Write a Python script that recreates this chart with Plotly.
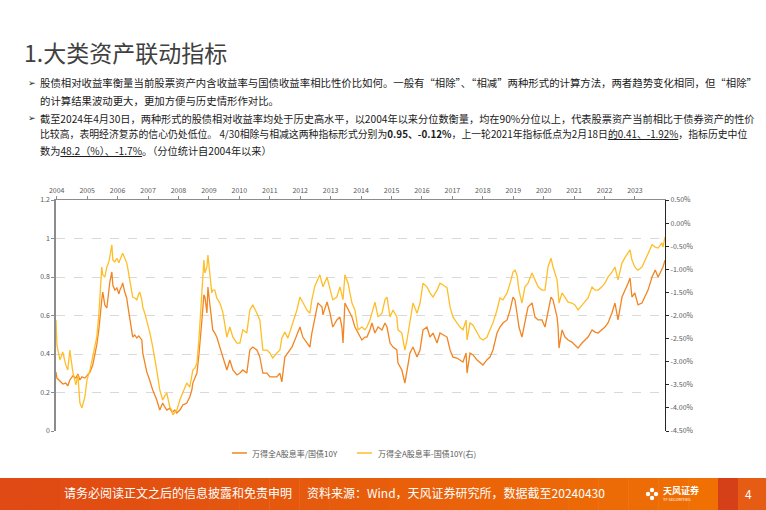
import plotly.graph_objects as go

# ---------------- data ----------------
dates = [
    "2004-01-02", "2004-01-13", "2004-02-19", "2004-03-25", "2004-04-30", "2004-05-25", "2004-06-19", "2004-07-25",
    "2004-09-01", "2004-09-25", "2004-10-19", "2004-11-13", "2004-12-19", "2005-01-13", "2005-02-19", "2005-03-25",
    "2005-04-19", "2005-05-13", "2005-06-07", "2005-06-19", "2005-07-13", "2005-07-25", "2005-08-19", "2005-09-13",
    "2005-10-07", "2005-10-19", "2005-11-13", "2005-11-25", "2005-12-19", "2006-01-13", "2006-02-07", "2006-02-19",
    "2006-03-13", "2006-03-25", "2006-04-19", "2006-05-13", "2006-05-25", "2006-06-19", "2006-07-13", "2006-07-25",
    "2006-08-19", "2006-09-13", "2006-10-07", "2006-10-19", "2006-11-13", "2006-11-25", "2006-12-19", "2007-01-13",
    "2007-02-08", "2007-02-20", "2007-03-26", "2007-04-20", "2007-05-14", "2007-06-20", "2007-07-14", "2007-07-26",
    "2007-08-20", "2007-09-14", "2007-10-20", "2007-11-14", "2007-11-26", "2007-12-20", "2008-01-14", "2008-02-20",
    "2008-03-14", "2008-03-26", "2008-04-20", "2008-05-14", "2008-06-20", "2008-07-15", "2008-07-27", "2008-08-21",
    "2008-09-15", "2008-10-09", "2008-10-21", "2008-11-15", "2008-11-27", "2008-12-09", "2008-12-21", "2009-01-15",
    "2009-01-27", "2009-02-21", "2009-03-15", "2009-03-27", "2009-04-21", "2009-05-15", "2009-06-21", "2009-07-27",
    "2009-08-21", "2009-09-15", "2009-10-21", "2009-11-27", "2010-01-16", "2010-02-21", "2010-03-28", "2010-05-16",
    "2010-06-22", "2010-07-28", "2010-09-16", "2010-10-22", "2010-11-28", "2011-01-17", "2011-02-22", "2011-03-28",
    "2011-05-17", "2011-06-23", "2011-07-17", "2011-08-23", "2011-09-29", "2011-11-17", "2011-12-23", "2012-01-17",
    "2012-02-23", "2012-03-29", "2012-05-17", "2012-06-23", "2012-07-17", "2012-08-23", "2012-09-29", "2012-10-23",
    "2012-11-18", "2012-11-29", "2013-01-18", "2013-02-23", "2013-03-29", "2013-05-18", "2013-06-24", "2013-07-18",
    "2013-08-01", "2013-08-24", "2013-10-01", "2013-11-18", "2013-12-24", "2014-02-01", "2014-03-19", "2014-04-25",
    "2014-05-19", "2014-06-25", "2014-07-19", "2014-08-25", "2014-10-02", "2014-11-19", "2014-12-25", "2015-01-19",
    "2015-02-25", "2015-04-02", "2015-05-19", "2015-06-02", "2015-07-19", "2015-08-25", "2015-09-20", "2015-10-26",
    "2015-12-02", "2016-01-20", "2016-02-26", "2016-04-02", "2016-05-20", "2016-06-26", "2016-08-02", "2016-09-20",
    "2016-10-26", "2016-12-02", "2017-01-20", "2017-02-26", "2017-04-02", "2017-05-20", "2017-06-26", "2017-08-02",
    "2017-09-09", "2017-09-21", "2017-10-27", "2017-12-03", "2018-01-21", "2018-02-27", "2018-04-03", "2018-05-21",
    "2018-06-27", "2018-08-03", "2018-09-21", "2018-10-27", "2018-12-03", "2019-01-22", "2019-02-28", "2019-04-04",
    "2019-04-28", "2019-05-22", "2019-06-16", "2019-07-22", "2019-08-28", "2019-10-04", "2019-11-22", "2019-12-28",
    "2020-02-04", "2020-03-22", "2020-04-28", "2020-06-04", "2020-07-10", "2020-08-04", "2020-09-22", "2020-10-04",
    "2020-10-16", "2020-11-22", "2020-12-28", "2021-02-04", "2021-03-22", "2021-04-28", "2021-06-05", "2021-07-23",
    "2021-08-29", "2021-10-05", "2021-11-23", "2021-12-29", "2022-02-05", "2022-03-23", "2022-04-29", "2022-06-05",
    "2022-07-23", "2022-08-29", "2022-10-05", "2022-11-23", "2023-01-03", "2023-02-06", "2023-03-01", "2023-03-24",
    "2023-04-28", "2023-06-06", "2023-07-24", "2023-09-01", "2023-10-06", "2023-11-24", "2024-01-02", "2024-02-06",
    "2024-03-24", "2024-04-06", "2024-04-30",
]

# 万得全A股息率/国债10Y (left axis)
ratio = [
    0.306, 0.275, 0.260, 0.244, 0.249, 0.234, 0.265, 0.286,
    0.275, 0.296, 0.265, 0.281, 0.275, 0.286, 0.306, 0.343,
    0.395, 0.447, 0.525, 0.587, 0.681, 0.722, 0.655, 0.639,
    0.732, 0.774, 0.826, 0.758, 0.732, 0.743, 0.712, 0.732,
    0.753, 0.769, 0.722, 0.691, 0.655, 0.587, 0.525, 0.488,
    0.499, 0.483, 0.494, 0.488, 0.473, 0.405, 0.358, 0.306,
    0.275, 0.255, 0.213, 0.187, 0.161, 0.109, 0.135, 0.145,
    0.125, 0.109, 0.119, 0.099, 0.099, 0.109, 0.094, 0.109,
    0.125, 0.135, 0.140, 0.145, 0.177, 0.213, 0.249, 0.275,
    0.301, 0.395, 0.473, 0.577, 0.644, 0.707, 0.696, 0.613,
    0.748, 0.644, 0.561, 0.525, 0.509, 0.488, 0.436, 0.384,
    0.358, 0.317, 0.369, 0.317, 0.291, 0.301, 0.317, 0.301,
    0.421, 0.436, 0.421, 0.384, 0.301, 0.301, 0.281, 0.281,
    0.281, 0.301, 0.255, 0.384, 0.405, 0.436, 0.473, 0.499,
    0.540, 0.488, 0.457, 0.436, 0.509, 0.592, 0.665, 0.655,
    0.644, 0.603, 0.670, 0.613, 0.540, 0.577, 0.592, 0.540,
    0.457, 0.665, 0.629, 0.592, 0.540, 0.509, 0.473, 0.488,
    0.488, 0.525, 0.561, 0.509, 0.540, 0.525, 0.561, 0.540,
    0.457, 0.436, 0.421, 0.353, 0.317, 0.249, 0.317, 0.405,
    0.436, 0.384, 0.421, 0.525, 0.540, 0.488, 0.509, 0.457,
    0.509, 0.499, 0.488, 0.421, 0.384, 0.379, 0.369, 0.358,
    0.405, 0.301, 0.405, 0.395, 0.369, 0.353, 0.343, 0.369,
    0.384, 0.421, 0.509, 0.540, 0.561, 0.577, 0.629, 0.696,
    0.681, 0.613, 0.540, 0.488, 0.577, 0.644, 0.665, 0.592,
    0.577, 0.577, 0.540, 0.629, 0.696, 0.681, 0.592, 0.540,
    0.431, 0.525, 0.488, 0.473, 0.462, 0.447, 0.431, 0.457,
    0.473, 0.488, 0.525, 0.514, 0.509, 0.525, 0.540, 0.561,
    0.613, 0.665, 0.577, 0.696, 0.732, 0.769, 0.795, 0.696,
    0.717, 0.655, 0.665, 0.696, 0.732, 0.800, 0.836, 0.800,
    0.836, 0.852, 0.888,
]

# 万得全A股息率-国债10Y (right axis, %)
spread = [
    -2.10, -2.64, -2.96, -2.79, -3.07, -3.18, -2.75, -3.22,
    -3.50, -3.29, -3.89, -4.00, -3.76, -3.40, -3.18, -2.90,
    -2.64, -2.47, -1.99, -1.60, -0.95, -1.12, -1.17, -0.95,
    -0.84, -0.73, -0.47, -0.80, -0.84, -0.76, -0.86, -0.80,
    -0.71, -0.65, -0.76, -0.86, -0.97, -1.23, -1.45, -1.60,
    -1.62, -1.66, -1.53, -1.49, -1.66, -1.82, -1.95, -2.10,
    -2.27, -2.38, -2.68, -2.92, -3.18, -3.61, -3.74, -3.83,
    -3.74, -3.68, -3.98, -4.05, -4.15, -4.09, -4.05, -3.83,
    -3.72, -3.68, -3.57, -3.46, -3.55, -3.35, -3.18, -3.14,
    -3.03, -2.53, -2.16, -1.56, -1.17, -0.80, -1.08, -0.95,
    -0.69, -1.17, -1.51, -1.45, -1.45, -1.62, -1.73, -1.92,
    -2.16, -2.47, -2.25, -2.47, -2.60, -2.60, -2.31, -2.38,
    -1.88, -1.77, -1.95, -2.10, -2.75, -2.75, -2.81, -2.92,
    -2.81, -2.75, -2.49, -2.36, -2.49, -2.21, -1.97, -1.88,
    -1.60, -1.73, -1.88, -1.95, -1.66, -1.36, -1.19, -1.12,
    -1.30, -1.38, -1.17, -1.45, -1.66, -1.60, -1.38, -1.56,
    -1.66, -1.12, -1.30, -1.73, -1.88, -2.31, -2.25, -2.31,
    -2.25, -2.10, -1.95, -1.71, -2.03, -1.95, -1.66, -1.60,
    -2.03, -1.88, -2.03, -2.31, -2.38, -2.75, -2.53, -2.10,
    -1.73, -1.95, -1.73, -1.30, -1.38, -1.51, -1.60, -1.45,
    -1.30, -1.34, -1.40, -1.82, -2.03, -2.16, -2.25, -2.31,
    -2.10, -2.53, -2.16, -2.21, -2.38, -2.49, -2.53, -2.47,
    -2.31, -2.16, -1.88, -1.62, -1.66, -1.51, -1.30, -1.06,
    -1.02, -1.12, -1.45, -1.73, -1.38, -1.30, -1.08, -1.23,
    -1.38, -1.45, -1.45, -0.95, -0.76, -0.95, -1.23, -1.45,
    -1.73, -1.51, -1.60, -1.71, -1.73, -1.77, -1.88, -1.77,
    -1.71, -1.62, -1.38, -1.45, -1.45, -1.38, -1.30, -1.17,
    -1.06, -0.95, -1.23, -0.86, -0.73, -0.63, -0.58, -0.80,
    -0.95, -1.02, -0.95, -0.80, -0.65, -0.47, -0.52, -0.54,
    -0.43, -0.52, -0.30,
]

# top-axis year labels (positions as placed on the reference's category-style axis)
year_tick_dates = [
    "2004-01-10", "2005-01-16", "2006-01-22", "2007-01-28", "2008-02-03", "2009-02-08", "2010-02-14",
    "2011-02-20", "2012-02-26", "2013-03-03", "2014-03-09", "2015-03-15", "2016-03-20", "2017-03-26",
    "2018-04-01", "2019-04-07", "2020-04-12", "2021-04-18", "2022-04-24", "2023-04-30",
]
year_labels = [str(y) for y in range(2004, 2024)]
left_ticks = [0, 0.2, 0.4, 0.6, 0.8, 1.0, 1.2]
right_ticks = [-4.5, -4.0, -3.5, -3.0, -2.5, -2.0, -1.5, -1.0, -0.5, 0.0, 0.5]
right_labels = ["%.2f%%" % v for v in right_ticks]

series_names = ["万得全A股息率/国债10Y", "万得全A股息率-国债10Y(右)"]
c_orange = "rgb(242,133,34)"
c_yellow = "rgb(255,190,40)"

# ---------------- layout geometry ----------------
W, H = 766, 510
L, R, T, B = 56, 665, 200, 431
FONT = "Noto Sans CJK SC, DejaVu Sans, sans-serif"


def fx(p):
    return (p - L) / (R - L)


def fy(p):
    return (B - p) / (B - T)


fig = go.Figure()
fig.add_trace(go.Scatter(x=dates, y=ratio, name=series_names[0], mode="lines",
                         line=dict(color=c_orange, width=1.3), yaxis="y"))
fig.add_trace(go.Scatter(x=dates, y=spread, name=series_names[1], mode="lines",
                         line=dict(color=c_yellow, width=1.3), yaxis="y2"))

axis_font = dict(family=FONT, size=7, color="#595959")

fig.update_layout(
    width=W, height=H,
    margin=dict(l=L, r=W - R, t=T, b=H - B, autoexpand=False),
    paper_bgcolor="white", plot_bgcolor="white",
    showlegend=False,
    font=dict(family=FONT),
    xaxis=dict(
        type="date", range=["2004-01-02", "2024-04-30"], side="top",
        tickvals=year_tick_dates, ticktext=year_labels, tickfont=axis_font,
        showgrid=False, zeroline=False,
        showline=True, linecolor="#8c8c8c", linewidth=1.2,
        ticks="outside", ticklen=3, tickcolor="#8c8c8c",
    ),
    yaxis=dict(
        range=[0, 1.2], tickvals=left_ticks, tickfont=axis_font,
        showgrid=True, gridcolor="#d9d9d9", griddash="dash", gridwidth=0.8,
        zeroline=False, showline=True, linecolor="#8c8c8c", linewidth=1.5,
        ticks="outside", ticklen=3, tickcolor="#8c8c8c",
    ),
    yaxis2=dict(
        range=[-4.5, 0.5], tickvals=right_ticks, ticktext=right_labels,
        tickfont=axis_font, overlaying="y", side="right",
        showgrid=False, zeroline=False, showline=True, linecolor="#262626", linewidth=1.2,
        ticks="outside", ticklen=3, tickcolor="#262626",
    ),
)

shapes = []
ann = []

# manual legend
leg_y = fy(453)
shapes.append(dict(type="line", xref="paper", yref="paper", x0=fx(232), x1=fx(247), y0=leg_y, y1=leg_y,
                   line=dict(color=c_orange, width=1.5)))
ann.append(dict(xref="paper", yref="paper", x=fx(250), y=leg_y, text=series_names[0], showarrow=False,
                xanchor="left", yanchor="middle", font=dict(family=FONT, size=8, color="#595959")))
shapes.append(dict(type="line", xref="paper", yref="paper", x0=fx(357), x1=fx(372), y0=leg_y, y1=leg_y,
                   line=dict(color=c_yellow, width=1.5)))
ann.append(dict(xref="paper", yref="paper", x=fx(376), y=leg_y, text=series_names[1], showarrow=False,
                xanchor="left", yanchor="middle", font=dict(family=FONT, size=8, color="#595959")))

# title
ann.append(dict(xref="paper", yref="paper", x=fx(22), y=fy(52), text="1.大类资产联动指标", showarrow=False,
                xanchor="left", yanchor="middle", font=dict(family=FONT, size=23, color="#404040")))

# bullet text
body = [
    (83, True, 10.4, "股债相对收益率衡量当前股票资产内含收益率与国债收益率相比性价比如何。一般有“相除”、“相减”两种形式的计算方法，两者趋势变化相同，但“相除”"),
    (100, False, 10.4, "的计算结果波动更大，更加方便与历史情形作对比。"),
    (118, True, 10.2, "截至2024年4月30日，两种形式的股债相对收益率均处于历史高水平，以2004年以来分位数衡量，均在90%分位以上，代表股票资产当前相比于债券资产的性价"),
    (134, False, 9.85, "比较高，表明经济复苏的信心仍处低位。 4/30相除与相减这两种指标形式分别为<b>0.95、-0.12%</b>，上一轮2021年指标低点为2月18日<u>的0.41、-1.92%</u>，指标历史中位"),
    (150, False, 10.2, "数为<u>48.2（%）、-1.7%</u>。（分位统计自2004年以来）"),
]
for yy, bullet, fs, txt in body:
    if bullet:
        ann.append(dict(xref="paper", yref="paper", x=fx(26), y=fy(yy), text="➢", showarrow=False,
                        xanchor="left", yanchor="middle", font=dict(family="DejaVu Sans", size=9, color="#222222")))
    ann.append(dict(xref="paper", yref="paper", x=fx(38), y=fy(yy), text=txt, showarrow=False,
                    xanchor="left", yanchor="middle", font=dict(family=FONT, size=fs, color="#1a1a1a")))

# footer band (left-to-right gradient)
n = 24
x_end = 718
for i in range(n):
    t = i / (n - 1)
    col = "rgb(%d,%d,%d)" % (224 + 16 * t, 74 + 38 * t, 20 - 16 * t)
    shapes.append(dict(type="rect", xref="paper", yref="paper", layer="below",
                       x0=fx(x_end * i / n), x1=fx(x_end * (i + 1) / n + 0.5), y0=fy(510), y1=fy(478),
                       line=dict(width=0), fillcolor=col))
shapes.append(dict(type="rect", xref="paper", yref="paper", x0=fx(718), x1=fx(738), y0=fy(510), y1=fy(478),
                   line=dict(width=0), fillcolor="rgb(214,64,24)"))
shapes.append(dict(type="rect", xref="paper", yref="paper", x0=fx(738), x1=fx(766), y0=fy(510), y1=fy(478),
                   line=dict(width=0), fillcolor="rgb(230,92,20)"))
# logo petals
for dx, dy in [(0, -4), (0, 4), (-4, 0), (4, 0)]:
    cx, cy = 652 + dx, 494 + dy
    shapes.append(dict(type="circle", xref="paper", yref="paper", x0=fx(cx - 2.2), x1=fx(cx + 2.2),
                       y0=fy(cy + 2.2), y1=fy(cy - 2.2), line=dict(width=0), fillcolor="white"))

ann.append(dict(xref="paper", yref="paper", x=fx(62), y=fy(492), text="请务必阅读正文之后的信息披露和免责申明",
                showarrow=False, xanchor="left", yanchor="middle", font=dict(family=FONT, size=12, color="white")))
ann.append(dict(xref="paper", yref="paper", x=fx(305), y=fy(492), text="资料来源：Wind，天风证券研究所，数据截至20240430",
                showarrow=False, xanchor="left", yanchor="middle", font=dict(family=FONT, size=12, color="white")))
ann.append(dict(xref="paper", yref="paper", x=fx(661), y=fy(490), text="<b>天风证券</b>",
                showarrow=False, xanchor="left", yanchor="middle", font=dict(family=FONT, size=9, color="white")))
ann.append(dict(xref="paper", yref="paper", x=fx(661), y=fy(499), text="TF SECURITIES",
                showarrow=False, xanchor="left", yanchor="middle", font=dict(family=FONT, size=4, color="white")))
ann.append(dict(xref="paper", yref="paper", x=fx(743), y=fy(493), text="4",
                showarrow=False, xanchor="left", yanchor="middle", font=dict(family=FONT, size=12, color="white")))

fig.update_layout(shapes=shapes, annotations=ann)
fig.write_html("out.html")
